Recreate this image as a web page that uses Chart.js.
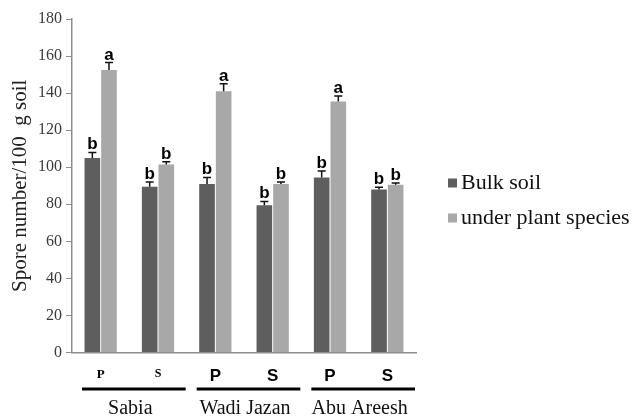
<!DOCTYPE html>
<html>
<head>
<meta charset="utf-8">
<script src="https://cdn.jsdelivr.net/npm/chart.js@4.4.1/dist/chart.umd.min.js"></script>
<style>
  html, body { margin: 0; padding: 0; background: #ffffff; }
  #wrap { width: 635px; height: 418px; position: relative; }
</style>
</head>
<body>
<div id="wrap"><canvas id="c" width="635" height="418"></canvas></div>
<script>
// Spore counts per 100 g soil, site x soil type (P / S)
const categories = ['P', 'S', 'P', 'S', 'P', 'S'];
const sites = ['Sabia', 'Wadi Jazan', 'Abu Areesh'];
const seriesNames = ['Bulk soil', 'under plant species'];
const bulkSoil = [105, 89.5, 91, 79.5, 94.5, 88];
const underPlant = [152.5, 101.5, 141, 91, 135.5, 90.5];
const bulkErr = [3, 2.5, 3.5, 2, 3.5, 1.2];
const plantErr = [4, 1.5, 4, 1, 3, 1];
const bulkLetters = ['b', 'b', 'b', 'b', 'b', 'b'];
const plantLetters = ['a', 'b', 'a', 'b', 'a', 'b'];
const yTicks = [0, 20, 40, 60, 80, 100, 120, 140, 160, 180];

const DARK = '#5e5e5e';
const LIGHT = '#a8a8a8';
const AXIS = '#8e8e8e';

// error bars with significance letters on top
const errorBars = {
  id: 'errorBars',
  afterDatasetsDraw(chart) {
    const ctx = chart.ctx;
    const y = chart.scales.y;
    ctx.save();
    chart.data.datasets.forEach((ds, di) => {
      const meta = chart.getDatasetMeta(di);
      meta.data.forEach((bar, i) => {
        const v = ds.data[i];
        const e = ds.errors[i];
        const yTop = y.getPixelForValue(v + e);
        const yVal = y.getPixelForValue(v);
        ctx.strokeStyle = '#111';
        ctx.lineWidth = 1.5;
        ctx.beginPath();
        ctx.moveTo(bar.x, yVal);
        ctx.lineTo(bar.x, yTop);
        ctx.moveTo(bar.x - 4, yTop);
        ctx.lineTo(bar.x + 4, yTop);
        ctx.stroke();
        ctx.fillStyle = '#000';
        ctx.font = 'bold 17px "Liberation Sans", Arial, sans-serif';
        ctx.textAlign = 'center';
        ctx.textBaseline = 'alphabetic';
        ctx.fillText(ds.letters[i], bar.x, yTop - 3);
      });
    });
    ctx.restore();
  }
};

// site group lines and names under the category labels
const siteGroups = {
  id: 'siteGroups',
  afterDraw(chart) {
    const ctx = chart.ctx;
    const x = chart.scales.x;
    const step = x.getPixelForValue(1) - x.getPixelForValue(0);
    ctx.save();
    sites.forEach((name, g) => {
      const left = x.getPixelForValue(g * 2) - step / 2;
      const right = left + step * 2;
      ctx.strokeStyle = '#000';
      ctx.lineWidth = 3;
      ctx.beginPath();
      ctx.moveTo(left + 10, 389);
      ctx.lineTo(right - 1, 389);
      ctx.stroke();
      ctx.fillStyle = '#111';
      ctx.font = '20px "Liberation Serif", "Times New Roman", serif';
      ctx.textAlign = 'center';
      ctx.textBaseline = 'middle';
      ctx.fillText(name, (left + right) / 2 + 1, 409);
    });
    ctx.restore();
  }
};

// legend on the right
const sideLegend = {
  id: 'sideLegend',
  afterDraw(chart) {
    const ctx = chart.ctx;
    ctx.save();
    chart.data.datasets.forEach((ds, i) => {
      const cy = 183 + i * 35;
      ctx.fillStyle = ds.backgroundColor;
      ctx.fillRect(448, cy - 4.5, 9, 9);
      ctx.fillStyle = '#111';
      ctx.font = '22px "Liberation Serif", "Times New Roman", serif';
      ctx.textAlign = 'left';
      ctx.textBaseline = 'middle';
      ctx.fillText(ds.label, 461, cy);
    });
    ctx.restore();
  }
};

new Chart(document.getElementById('c'), {
  type: 'bar',
  data: {
    labels: categories,
    datasets: [
      { label: seriesNames[0], data: bulkSoil, errors: bulkErr, letters: bulkLetters,
        backgroundColor: DARK, borderWidth: 0 },
      { label: seriesNames[1], data: underPlant, errors: plantErr, letters: plantLetters,
        backgroundColor: LIGHT, borderWidth: 0 }
    ]
  },
  options: {
    responsive: false,
    animation: false,
    devicePixelRatio: 1,
    categoryPercentage: 0.58,
    barPercentage: 0.94,
    layout: { padding: { left: 0, right: 219, top: 19, bottom: 0 } },
    plugins: {
      legend: { display: false },
      tooltip: { enabled: false }
    },
    scales: {
      x: {
        grid: { display: false, drawTicks: false },
        border: { display: true, color: AXIS, width: 1.5 },
        ticks: {
          padding: 14,
          color: '#000',
          font: (ctx) => {
            if (ctx.index === 0) return { family: '"Liberation Serif", serif', size: 13, weight: 'bold' };
            if (ctx.index === 1) return { family: '"Liberation Serif", serif', size: 12, weight: 'bold' };
            return { family: '"Liberation Sans", Arial, sans-serif', size: 17, weight: 'bold' };
          }
        },
        afterFit: (s) => { s.height = 65.5; }
      },
      y: {
        min: 0,
        max: 180,
        afterBuildTicks: (s) => { s.ticks = yTicks.map(v => ({ value: v })); },
        grid: { drawOnChartArea: false, drawTicks: true, tickLength: 6, color: AXIS },
        border: { display: true, color: AXIS, width: 1.5 },
        ticks: {
          padding: 4,
          color: '#3a3a3a',
          font: { family: '"Liberation Serif", "Times New Roman", serif', size: 16 }
        },
        title: {
          display: true,
          text: 'Spore number/100  g soil',
          color: '#222',
          padding: { top: 8, bottom: 0 },
          font: { family: '"Liberation Serif", "Times New Roman", serif', size: 21 }
        },
        afterFit: (s) => { s.width = 72; }
      }
    }
  },
  plugins: [errorBars, siteGroups, sideLegend]
});
</script>
</body>
</html>
